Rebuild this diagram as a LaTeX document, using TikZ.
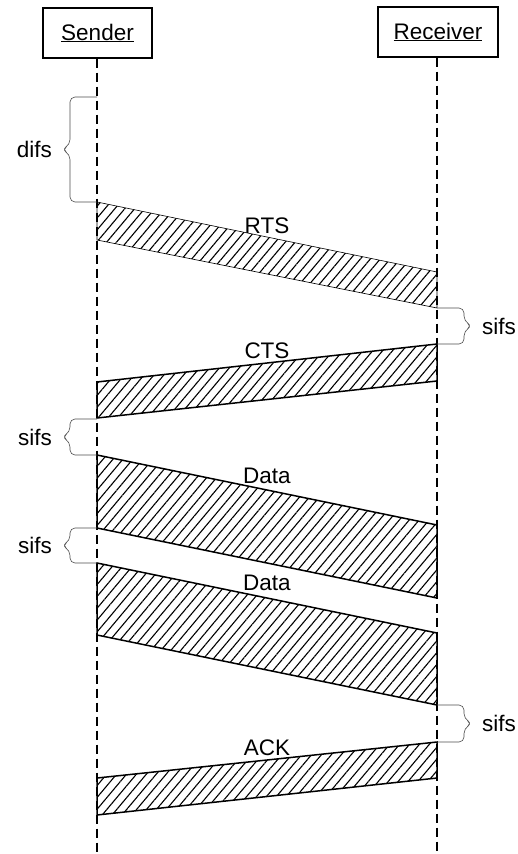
\documentclass[tikz,border=0pt]{standalone}
\usepackage{fontspec}
\setmainfont{Liberation Sans}
\usetikzlibrary{patterns.meta}

\tikzset{
  actor/.style={draw, line width=1.4pt, inner sep=0pt, minimum height=50pt, font=\fontsize{22.5}{26}\selectfont},
  lifeline/.style={line width=1.2pt, dash pattern=on 9pt off 5pt},
  frame/.style={line width=1.5pt, line join=miter, pattern={Lines[angle=50, distance=7.6pt, line width=1.1pt]}},
  gap/.style={line width=0.6pt, black!70, rounded corners=5pt},
  lbl/.style={font=\fontsize{22.5}{26}\selectfont, inner sep=0pt}
}

\begin{document}
\begin{tikzpicture}[x=1pt, y=-1pt]
  \useasboundingbox (0,0) rectangle (518,854);

  % stations
  \node[actor, minimum width=109pt] (snd) at (97.5,33) {\underline{Sender}};
  \node[actor, minimum width=120pt] (rcv) at (438,32) {\underline{Receiver}};
  \coordinate (sndend) at (97,854);
  \coordinate (rcvend) at (437,854);
  \draw[lifeline] (snd.south -| sndend) -- (sndend);
  \draw[lifeline] (rcv.south -| rcvend) -- (rcvend);

  % frames
  \draw[frame, line width=0.6pt] (97,202) -- (437,272) -- (437,308) -- (97,240) -- cycle;
  \draw[frame] (437,344) -- (437,381) -- (97,418) -- (97,382) -- cycle;
  \draw[frame] (97,455) -- (437,525) -- (437,598) -- (97,528) -- cycle;
  \draw[frame] (97,563) -- (437,633) -- (437,705) -- (97,635) -- cycle;
  \draw[frame] (437,742) -- (437,778) -- (97,815) -- (97,778) -- cycle;

  \node[lbl] (rts) at (267,226) {RTS};
  \node[lbl] (cts) at (267,351) {CTS};
  \node[lbl] (data1) at (267,476) {Data};
  \node[lbl] (data2) at (267,583) {Data};
  \node[lbl] (ack) at (267,748) {ACK};

  % interframe spaces
  \foreach \lx/\dir/\ya/\yb/\tx/\side [count=\i] in {97/-1/97/202/difs/east, 437/1/308/344/sifs/west, 97/-1/419/455/sifs/east, 97/-1/528/563/sifs/east, 437/1/705/742/sifs/west}{
    \draw[gap] (\lx,\ya) -- ({\lx+\dir*27},\ya) -- ({\lx+\dir*27},{(\ya+\yb)/2-5})
      -- ({\lx+\dir*35},{(\ya+\yb)/2}) -- ({\lx+\dir*27},{(\ya+\yb)/2+5})
      -- ({\lx+\dir*27},\yb) -- (\lx,\yb);
    \node[lbl, anchor=\side] (gap\i) at ({\lx+\dir*45},{(\ya+\yb)/2}) {\tx};
  }
\end{tikzpicture}
\end{document}
